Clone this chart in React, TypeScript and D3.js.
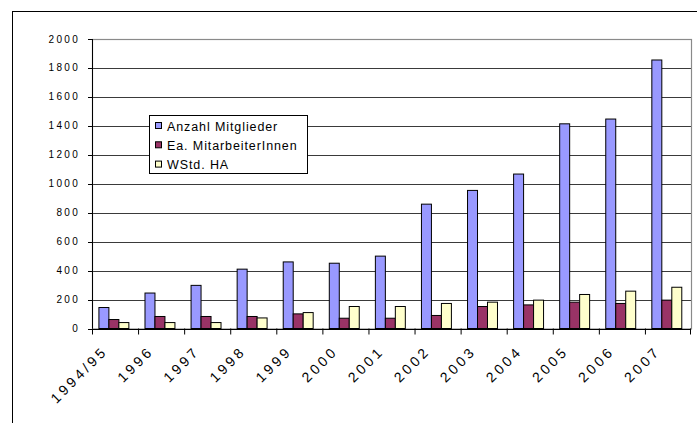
import React from "react";
import * as d3 from "d3";

const categories = ["1994/95","1996","1997","1998","1999","2000","2001","2002","2003","2004","2005","2006","2007"];
const seriesNames = ["Anzahl Mitglieder","Ea. MitarbeiterInnen","WStd. HA"];
const mitglieder = [145,245,298,410,460,451,500,859,954,1067,1414,1447,1855];
const mitarbeiter = [62,83,83,83,101,71,71,90,152,163,182,173,196];
const wstd = [41,41,41,73,110,152,152,173,182,196,235,258,285];
const yTicks = [0,200,400,600,800,1000,1200,1400,1600,1800,2000];
const colors = ["#9999FF","#993366","#FFFFCC"];

export default function App() {
  const W = 697, H = 423;
  const left = 92, right = 691, top = 39, bottom = 328.5;
  const x0 = d3.scaleBand().domain(categories).range([left, right]).paddingInner(0).paddingOuter(0);
  const bw = x0.bandwidth();
  const x1 = d3.scaleBand().domain(seriesNames).range([bw * 0.15, bw * 0.8]).padding(0);
  const y = d3.scaleLinear().domain([0, 2000]).range([bottom, top]);
  const series = [mitglieder, mitarbeiter, wstd];
  const font = "'Liberation Sans', Arial, sans-serif";

  return (
    <svg width={W} height={H} style={{ position: "absolute", left: 0, top: 0, display: "block", background: "#fff" }}>
      <rect x={12.5} y={11.5} width={800} height={600} fill="#fff" stroke="#000" strokeWidth={1} />
      {yTicks.map((t) => (
        <line key={"g" + t} x1={left} x2={right} y1={Math.round(y(t)) + 0.5} y2={Math.round(y(t)) + 0.5} stroke="#3a3a3a" strokeWidth={1} />
      ))}
      <rect x={left + 0.5} y={Math.round(top) + 0.5} width={right - left} height={bottom - top} fill="none" stroke="#8a8a8a" strokeWidth={1.2} />
      {categories.map((c, i) => (
        <g key={c} transform={`translate(${x0(c)},0)`}>
          {series.map((s, k) => {
            const bx = x1(seriesNames[k])!;
            const by = y(s[i]);
            return (
              <rect key={k} x={bx} y={by} width={x1.bandwidth()} height={y(0) - by} fill={colors[k]} stroke="#000" strokeWidth={1} />
            );
          })}
        </g>
      ))}
      <line x1={left + 0.5} x2={left + 0.5} y1={top} y2={bottom} stroke="#000" strokeWidth={1} />
      <line x1={left} x2={right} y1={Math.round(bottom) + 0.5} y2={Math.round(bottom) + 0.5} stroke="#000" strokeWidth={1} />
      {yTicks.map((t) => (
        <g key={"yt" + t}>
          <line x1={left - 4} x2={left} y1={Math.round(y(t)) + 0.5} y2={Math.round(y(t)) + 0.5} stroke="#000" />
          <text x={80} y={y(t)} dy="0.35em" textAnchor="end" fontFamily={font} fontSize={10} letterSpacing={2.3} fill="#000">{t}</text>
        </g>
      ))}
      {categories.map((c) => (
        <line key={"xt" + c} x1={x0(c)! + 0.5} x2={x0(c)! + 0.5} y1={bottom} y2={bottom + 6} stroke="#000" />
      ))}
      <line x1={right - 0.5} x2={right - 0.5} y1={bottom} y2={bottom + 6} stroke="#000" />
      {categories.map((c) => {
        const cx = x0(c)! + bw / 2;
        return (
          <text key={"xl" + c} transform={`translate(${cx - 6.5},${bottom + 23.5}) rotate(-45)`} textAnchor="end" fontFamily={font} fontSize={14} letterSpacing={3.3} fill="#000">{c}</text>
        );
      })}
      <rect x={149.5} y={115.5} width={158} height={58} fill="#fff" stroke="#000" strokeWidth={1} />
      {seriesNames.map((n, k) => {
        const cy = 126 + k * 19.3;
        return (
          <g key={n}>
            <rect x={155.5} y={cy - 3.5} width={6} height={6} fill={colors[k]} stroke="#000" strokeWidth={1} />
            <text x={167} y={cy} dy="0.38em" fontFamily={font} fontSize={12.5} letterSpacing={0.9} fill="#000">{n}</text>
          </g>
        );
      })}
    </svg>
  );
}
